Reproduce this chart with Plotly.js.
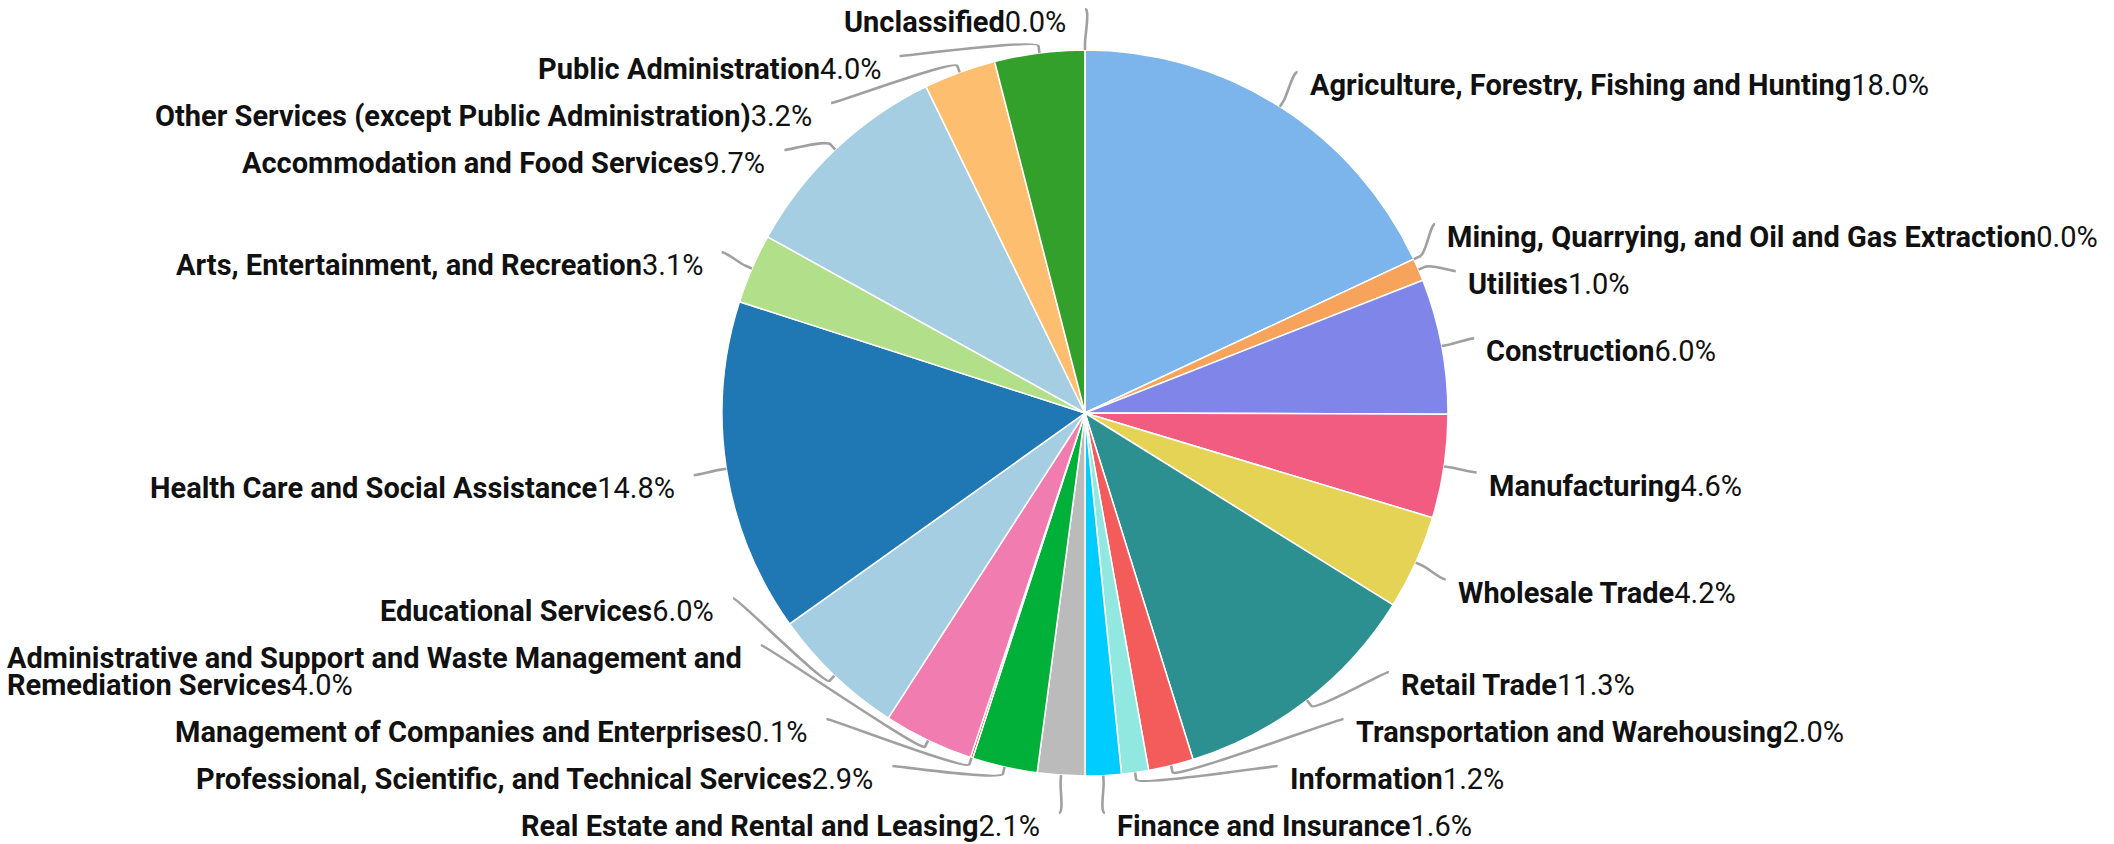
<!DOCTYPE html>
<html><head><meta charset="utf-8">
<script src="https://cdn.plot.ly/plotly-3.0.1.min.js"></script>
<style>html,body{margin:0;padding:0;background:#fff;}#chart{width:2114px;height:844px;}</style>
</head><body><div id="chart"></div>
<script>
// ---- data ----
const categories = [
  "Agriculture, Forestry, Fishing and Hunting",
  "Mining, Quarrying, and Oil and Gas Extraction",
  "Utilities",
  "Construction",
  "Manufacturing",
  "Wholesale Trade",
  "Retail Trade",
  "Transportation and Warehousing",
  "Information",
  "Finance and Insurance",
  "Real Estate and Rental and Leasing",
  "Professional, Scientific, and Technical Services",
  "Management of Companies and Enterprises",
  "Administrative and Support and Waste Management and Remediation Services",
  "Educational Services",
  "Health Care and Social Assistance",
  "Arts, Entertainment, and Recreation",
  "Accommodation and Food Services",
  "Other Services (except Public Administration)",
  "Public Administration",
  "Unclassified"
];
const shares = [18.0, 0.0, 1.0, 6.0, 4.6, 4.2, 11.3, 2.0, 1.2, 1.6, 2.1, 2.9, 0.1, 4.0, 6.0, 14.8, 3.1, 9.7, 3.2, 4.0, 0.0];
const sliceColors = ["#7cb5ec","#434348","#f7a35c","#8085e9","#f15c80","#e4d354","#2b908f","#f45b5b","#91e8e1","#00ccff","#bbbbbb","#00b038","#e8291c","#f17cb0","#a6cee3","#1f78b4","#b2df8a","#a6cee3","#fdbf6f","#33a02c","#6a3d9a"];

// ---- geometry / style ----
const W = 2114, H = 844;
const CX = 1085, CY = 413, R = 363;     // pie centre and radius (px)
const LV = 404, LH = 396;               // label ellipse radii
const BREAK = 7;                        // connector break offset
const BOX1 = 47, LINE = 27;             // label box height, extra line height
const GAP_R = 10, GAP_L = 17;
const FONT = 29;
const px = x => x / W, py = y => 1 - y / H;

function wrapLabel(s, maxChars) {
  if (s.length <= maxChars) return [s];
  const words = s.split(' '); const lines = []; let cur = '';
  words.forEach(w => { const t = cur ? cur + ' ' + w : w; if (t.length > maxChars && cur) { lines.push(cur); cur = w; } else cur = t; });
  if (cur) lines.push(cur);
  return lines;
}

const total = shares.reduce((a, b) => a + b, 0);
let cum = 0;
const items = shares.map((v, i) => {
  const a0 = cum / total * 2 * Math.PI; cum += v; const a1 = cum / total * 2 * Math.PI;
  const th = (a0 + a1) / 2;
  const sx = Math.sin(th), sy = -Math.cos(th);
  const lines = wrapLabel(categories[i], 52);
  return { i, th, sx, sy, left: th > Math.PI, lines, size: BOX1 + (lines.length - 1) * LINE,
           natural: CY + LV * sy, pct: (v / total * 100).toFixed(1) + '%' };
});

function distribute(boxes, len) {
  boxes.sort((a, b) => a.target - b.target);
  const bx = boxes.map(b => ({ size: b.size, targets: [b.target], align: 0.5 }));
  let overlapping = true;
  while (overlapping) {
    for (let i = bx.length - 1; i >= 0; i--) {
      const b = bx[i];
      const t = (Math.min(...b.targets) + Math.max(...b.targets)) / 2;
      b.pos = Math.min(Math.max(t - b.size * b.align, 0), len - b.size);
    }
    overlapping = false;
    for (let i = bx.length - 1; i > 0; i--) {
      if (bx[i - 1].pos + bx[i - 1].size > bx[i].pos) {
        bx[i - 1].size += bx[i].size;
        bx[i - 1].targets = bx[i - 1].targets.concat(bx[i].targets);
        bx[i - 1].align = 0.5;
        if (bx[i - 1].pos + bx[i - 1].size > len) bx[i - 1].pos = len - bx[i - 1].size;
        bx.splice(i, 1);
        overlapping = true;
      }
    }
  }
  let k = 0;
  bx.forEach(b => { let off = 0; b.targets.forEach(() => { boxes[k].pos = b.pos + off; off += boxes[k].size; k++; }); });
}

const topB = Math.max(0, CY - LV), bottomB = Math.min(CY + LV - 4, H);
[false, true].forEach(isLeft => {
  const half = items.filter(it => it.left === isLeft);
  const boxes = half.map(it => ({ it, size: it.size, target: it.natural - topB + it.size / 2 }));
  distribute(boxes, bottomB + BOX1 - topB);
  boxes.forEach(b => { b.it.y = b.pos + topB; });
});

const canvas = document.createElement('canvas');
const ctx = canvas.getContext('2d');
function textW(s, bold) { ctx.font = (bold ? 'bold ' : '') + FONT + 'px Roboto'; return ctx.measureText(s).width; }

const shapes = [], annotations = [];
items.forEach(it => {
  const dir = it.left ? -1 : 1;
  const yy = (it.y < topB + 2 || it.y > bottomB - 2) ? it.natural : it.y;
  const dy = yy - CY;
  const X = CX + dir * LH * Math.sqrt(Math.max(0, 1 - (dy / LV) * (dy / LV)));
  const Y = it.y;
  const tx = CX + R * it.sx, ty = CY + R * it.sy;
  const bxp = CX + (R + BREAK) * it.sx, byp = CY + (R + BREAK) * it.sy;
  const c2x = 2 * bxp - tx, c2y = 2 * byp - ty;
  const c1x = X - dir * 5;
  shapes.push({ type: 'path', xref: 'paper', yref: 'paper', layer: 'above',
    path: `M ${px(X)},${py(Y)} C ${px(c1x)},${py(Y)} ${px(c2x)},${py(c2y)} ${px(bxp)},${py(byp)} L ${px(tx)},${py(ty)}`,
    line: { color: '#a0a0a0', width: 2.6 } });
  const n = it.lines.length;
  const center = Y - 10.5 + it.size / 2;
  const widths = it.lines.map((l, j) => textW(l, true) + (j === n - 1 ? textW(it.pct, false) : 0));
  const blockW = Math.max(...widths);
  it.lines.forEach((l, j) => {
    const txt = '<b>' + l + '</b>' + (j === n - 1 ? it.pct : '');
    const yc = center + (j - (n - 1) / 2) * LINE;
    let xa, xpos;
    if (!it.left) { xa = 'left'; xpos = X + GAP_R; }
    else if (n === 1) { xa = 'right'; xpos = X - GAP_L; }
    else { xa = 'left'; xpos = X - GAP_L - blockW - 4; }
    annotations.push({ xref: 'paper', yref: 'paper', x: px(xpos), y: py(yc), xanchor: xa, yanchor: 'middle',
      text: txt, showarrow: false, font: { family: 'Roboto', size: FONT, color: '#111' } });
  });
});

const trace = {
  type: 'pie', values: shares, labels: categories, sort: false, direction: 'clockwise', rotation: 0,
  textinfo: 'none', hoverinfo: 'label+percent',
  marker: { colors: sliceColors, line: { color: '#ffffff', width: 1.5 } },
  domain: { x: [(CX - R) / W, (CX + R) / W], y: [1 - (CY + R) / H, 1 - (CY - R) / H] },
  showlegend: false
};
Plotly.newPlot('chart', [trace], {
  width: W, height: H, margin: { l: 0, r: 0, t: 0, b: 0, pad: 0 },
  paper_bgcolor: '#ffffff', plot_bgcolor: '#ffffff', showlegend: false,
  font: { family: 'Roboto' }, shapes, annotations
}, { displayModeBar: false, staticPlot: true });
</script></body></html>
